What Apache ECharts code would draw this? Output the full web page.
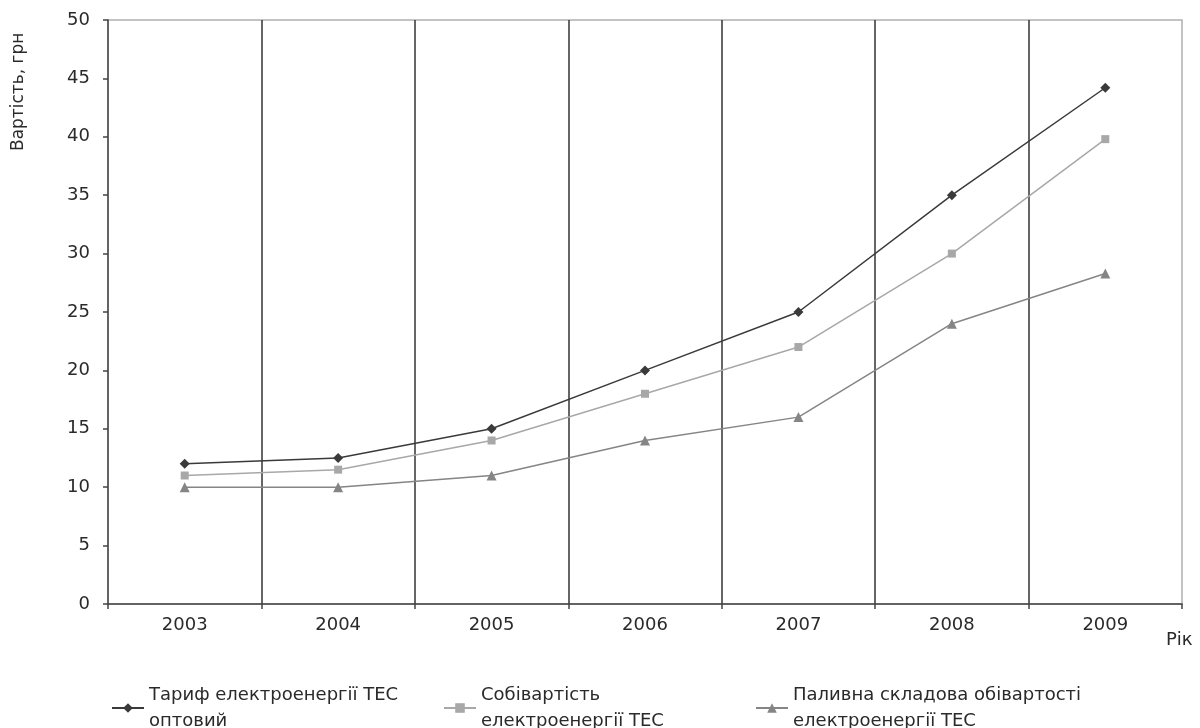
<!DOCTYPE html>
<html><head><meta charset="utf-8">
<script src="https://cdn.jsdelivr.net/npm/echarts@6/dist/echarts.min.js"></script>
<style>html,body{margin:0;padding:0;background:#fff}#c{width:1200px;height:728px}</style>
</head><body><div id="c"></div>
<script>
const years = ['2003','2004','2005','2006','2007','2008','2009'];
const tariff = [12, 12.5, 15, 20, 25, 35, 44.2];
const cost = [11, 11.5, 14, 18, 22, 30, 39.8];
const fuel = [10, 10, 11, 14, 16, 24, 28.3];
const names = ['Тариф електроенергії ТЕС оптовий', 'Собівартість електроенергії ТЕС', 'Паливна складова обівартості електроенергії ТЕС'];
const legendText = {};
legendText[names[0]] = 'Тариф електроенергії ТЕС\nоптовий';
legendText[names[1]] = 'Собівартість\nелектроенергії ТЕС';
legendText[names[2]] = 'Паливна складова обівартості\nелектроенергії ТЕС';
const font = 'DejaVu Sans';
const txt = '#2a2a2a';
const chart = echarts.init(document.getElementById('c'));
function leg(name, left){
  return {show:true, data:[name], left:left, top:677, itemWidth:32, itemHeight:12, itemGap:0,
    formatter: n => legendText[n],
    textStyle:{fontFamily:font, fontSize:18, color:txt, lineHeight:26}};
}
chart.setOption({
  animation:false,
  grid:{left:108, right:18, top:20, bottom:124, show:true, borderColor:'#b0b0b0', borderWidth:1.5},
  xAxis:{type:'category', data:years, boundaryGap:true,
    axisLine:{lineStyle:{color:'#444', width:1.5}},
    axisTick:{show:true, length:5, lineStyle:{color:'#444', width:1.5}},
    axisLabel:{fontFamily:font, fontSize:18, color:txt, margin:12},
    splitLine:{show:true, showMinLine:false, showMaxLine:false, lineStyle:{color:'#333', width:1.5}}},
  yAxis:{type:'value', min:0, max:50, interval:5,
    axisLine:{show:true, lineStyle:{color:'#444', width:1.5}},
    axisTick:{show:true, length:5, lineStyle:{color:'#444', width:1.5}},
    axisLabel:{fontFamily:font, fontSize:18, color:txt, margin:18},
    splitLine:{show:false}},
  legend:[leg(names[0],106), leg(names[1],438), leg(names[2],750)],
  graphic:[
    {type:'text', x:10, y:151, rotation:Math.PI/2, style:{text:'Вартість, грн', font:'17px "DejaVu Sans"', fill:txt}},
    {type:'text', x:1166, y:640, style:{text:'Рік', font:'18px "DejaVu Sans"', fill:txt, verticalAlign:'middle'}}
  ],
  series:[
    {name:names[0], type:'line', data:tariff, symbol:'diamond', symbolSize:10,
      itemStyle:{color:'#3a3a3a'}, lineStyle:{color:'#3a3a3a', width:1.5}},
    {name:names[1], type:'line', data:cost, symbol:'rect', symbolSize:8,
      itemStyle:{color:'#a8a8a8'}, lineStyle:{color:'#a8a8a8', width:1.5}},
    {name:names[2], type:'line', data:fuel, symbol:'triangle', symbolSize:10,
      itemStyle:{color:'#858585'}, lineStyle:{color:'#858585', width:1.5}}
  ]
});
</script></body></html>
